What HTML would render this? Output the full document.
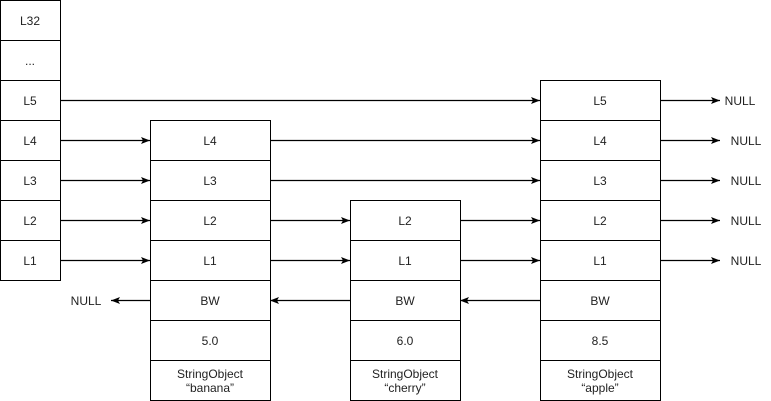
<!DOCTYPE html>
<html><head><meta charset="utf-8"><style>
html,body{margin:0;padding:0;background:#fff;}
svg{display:block;}
text{font-family:"Liberation Sans",Arial,sans-serif;font-size:12px;fill:#222;text-anchor:middle;dominant-baseline:central;}
</style></head><body>
<svg width="771" height="401" viewBox="0 0 771 401" xmlns="http://www.w3.org/2000/svg">
<defs>
<marker id="a" markerWidth="10" markerHeight="8" refX="9" refY="4" orient="auto" markerUnits="userSpaceOnUse">
<path d="M0,0.5 L9,4 L0,7.5 L2,4 Z" fill="#000"/>
</marker>
</defs>
<g fill="#fff" stroke="#000" stroke-width="1">
<rect x="0.5" y="0.5" width="60" height="40"/>
<rect x="0.5" y="40.5" width="60" height="40"/>
<rect x="0.5" y="80.5" width="60" height="40"/>
<rect x="0.5" y="120.5" width="60" height="40"/>
<rect x="0.5" y="160.5" width="60" height="40"/>
<rect x="0.5" y="200.5" width="60" height="40"/>
<rect x="0.5" y="240.5" width="60" height="40"/>
<rect x="150.5" y="120.5" width="120" height="40"/>
<rect x="150.5" y="160.5" width="120" height="40"/>
<rect x="150.5" y="200.5" width="120" height="40"/>
<rect x="150.5" y="240.5" width="120" height="40"/>
<rect x="150.5" y="280.5" width="120" height="40"/>
<rect x="150.5" y="320.5" width="120" height="40"/>
<rect x="150.5" y="360.5" width="120" height="40"/>
<rect x="350.5" y="200.5" width="110" height="40"/>
<rect x="350.5" y="240.5" width="110" height="40"/>
<rect x="350.5" y="280.5" width="110" height="40"/>
<rect x="350.5" y="320.5" width="110" height="40"/>
<rect x="350.5" y="360.5" width="110" height="40"/>
<rect x="540.5" y="80.5" width="120" height="40"/>
<rect x="540.5" y="120.5" width="120" height="40"/>
<rect x="540.5" y="160.5" width="120" height="40"/>
<rect x="540.5" y="200.5" width="120" height="40"/>
<rect x="540.5" y="240.5" width="120" height="40"/>
<rect x="540.5" y="280.5" width="120" height="40"/>
<rect x="540.5" y="320.5" width="120" height="40"/>
<rect x="540.5" y="360.5" width="120" height="40"/>
</g>
<g stroke="#000" stroke-width="1.3" fill="none" marker-end="url(#a)">
<line x1="60" y1="100.5" x2="540" y2="100.5"/>
<line x1="60" y1="140.5" x2="150" y2="140.5"/>
<line x1="60" y1="180.5" x2="150" y2="180.5"/>
<line x1="60" y1="220.5" x2="150" y2="220.5"/>
<line x1="60" y1="260.5" x2="150" y2="260.5"/>
<line x1="270" y1="140.5" x2="540" y2="140.5"/>
<line x1="270" y1="180.5" x2="540" y2="180.5"/>
<line x1="270" y1="220.5" x2="350" y2="220.5"/>
<line x1="270" y1="260.5" x2="350" y2="260.5"/>
<line x1="460" y1="220.5" x2="540" y2="220.5"/>
<line x1="460" y1="260.5" x2="540" y2="260.5"/>
<line x1="660" y1="100.5" x2="720" y2="100.5"/>
<line x1="660" y1="140.5" x2="720" y2="140.5"/>
<line x1="660" y1="180.5" x2="720" y2="180.5"/>
<line x1="660" y1="220.5" x2="720" y2="220.5"/>
<line x1="660" y1="260.5" x2="720" y2="260.5"/>
<line x1="150" y1="300.5" x2="111" y2="300.5"/>
<line x1="350" y1="300.5" x2="270" y2="300.5"/>
<line x1="540" y1="300.5" x2="460" y2="300.5"/>
</g>
<g>
<text x="30" y="21">L32</text>
<text x="30" y="61">...</text>
<text x="30" y="101">L5</text>
<text x="30" y="141">L4</text>
<text x="30" y="181">L3</text>
<text x="30" y="221">L2</text>
<text x="30" y="261">L1</text>
<text x="210" y="141">L4</text>
<text x="210" y="181">L3</text>
<text x="210" y="221">L2</text>
<text x="210" y="261">L1</text>
<text x="210" y="301">BW</text>
<text x="210" y="341">5.0</text>
<text x="210" y="374">StringObject</text>
<text x="210" y="388">“banana”</text>
<text x="405" y="221">L2</text>
<text x="405" y="261">L1</text>
<text x="405" y="301">BW</text>
<text x="405" y="341">6.0</text>
<text x="405" y="374">StringObject</text>
<text x="405" y="388">“cherry”</text>
<text x="600" y="101">L5</text>
<text x="600" y="141">L4</text>
<text x="600" y="181">L3</text>
<text x="600" y="221">L2</text>
<text x="600" y="261">L1</text>
<text x="600" y="301">BW</text>
<text x="600" y="341">8.5</text>
<text x="600" y="374">StringObject</text>
<text x="600" y="388">“apple”</text>
<text x="740" y="101">NULL</text>
<text x="746" y="141">NULL</text>
<text x="746" y="181">NULL</text>
<text x="746" y="221">NULL</text>
<text x="746" y="261">NULL</text>
<text x="86" y="301">NULL</text>
</g>
</svg>
</body></html>
